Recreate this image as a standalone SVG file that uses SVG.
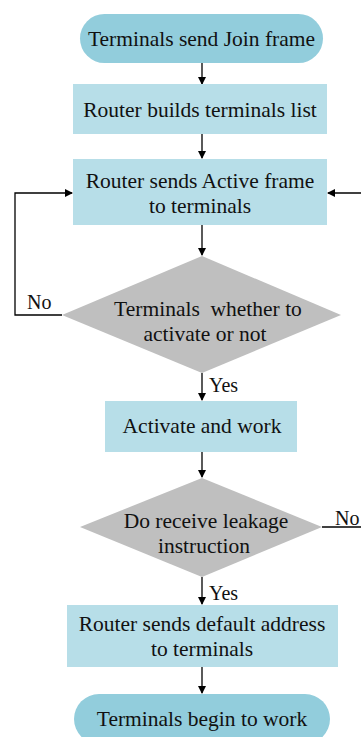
<svg xmlns="http://www.w3.org/2000/svg" width="361" height="737" viewBox="0 0 361 737">
<defs>
<marker id="ah" markerWidth="8" markerHeight="8" refX="7" refY="4" orient="auto" markerUnits="userSpaceOnUse">
<path d="M0,0 L8,4 L0,8 Z" fill="#000"/>
</marker>
<style>
.term{fill:#92CDDC;}
.box{fill:#B7DEE8;}
.dia{fill:#BFBFBF;}
text{font-size:21.5px;fill:#111;text-anchor:middle;}
.lbl{text-anchor:start;font-size:20px;}
.c{fill:none;stroke:#000;stroke-width:1.3;}
</style>
</defs>
<rect width="361" height="737" fill="#fff"/>
<g font-family="'Liberation Serif', 'Times New Roman', 'DejaVu Serif', serif">
<g id="connectors">
<path class="c" d="M202,63 V84" marker-end="url(#ah)"/>
<path class="c" d="M202,134 V158" marker-end="url(#ah)"/>
<path class="c" d="M202,225 V255" marker-end="url(#ah)"/>
<path class="c" d="M62,315 H15 V193 H72" marker-end="url(#ah)"/>
<path class="c" d="M361,193 H328" marker-end="url(#ah)"/>
<path class="c" d="M202,373 V400" marker-end="url(#ah)"/>
<path class="c" d="M202,452 V477" marker-end="url(#ah)"/>
<path class="c" d="M322,527 H361"/>
<path class="c" d="M202,577 V604" marker-end="url(#ah)"/>
<path class="c" d="M202,667 V693" marker-end="url(#ah)"/>
<text class="lbl" x="27" y="309">No</text>
<text class="lbl" x="209" y="392">Yes</text>
<text class="lbl" x="335" y="525">No</text>
<text class="lbl" x="209" y="600">Yes</text>
</g>
<g id="start">
<rect class="term" x="80" y="14" width="243" height="49" rx="24.5"/>
<text x="201.5" y="46">Terminals send Join frame</text>
</g>
<g id="build">
<rect class="box" x="73" y="84" width="254" height="50"/>
<text x="200" y="117">Router builds terminals list</text>
</g>
<g id="send-active">
<rect class="box" x="73" y="159" width="254" height="66"/>
<text x="200" y="188">Router sends Active frame</text>
<text x="200" y="213">to terminals</text>
</g>
<g id="decide-activate">
<polygon class="dia" points="202,256 341,315 202,373 62,315"/>
<text x="208" y="316" xml:space="preserve">Terminals  whether to</text>
<text x="205" y="341">activate or not</text>
</g>
<g id="activate">
<rect class="box" x="105" y="401" width="192" height="51"/>
<text x="202" y="433">Activate and work</text>
</g>
<g id="decide-leakage">
<polygon class="dia" points="202,478 322,527 202,577 80,527"/>
<text x="206" y="528">Do receive leakage</text>
<text x="204" y="553">instruction</text>
</g>
<g id="send-default">
<rect class="box" x="67" y="605" width="271" height="62"/>
<text x="202" y="631">Router sends default address</text>
<text x="202" y="656">to terminals</text>
</g>
<g id="end">
<rect class="term" x="74" y="694" width="256" height="50" rx="25"/>
<text x="202" y="726">Terminals begin to work</text>
</g>
</g>
</svg>
